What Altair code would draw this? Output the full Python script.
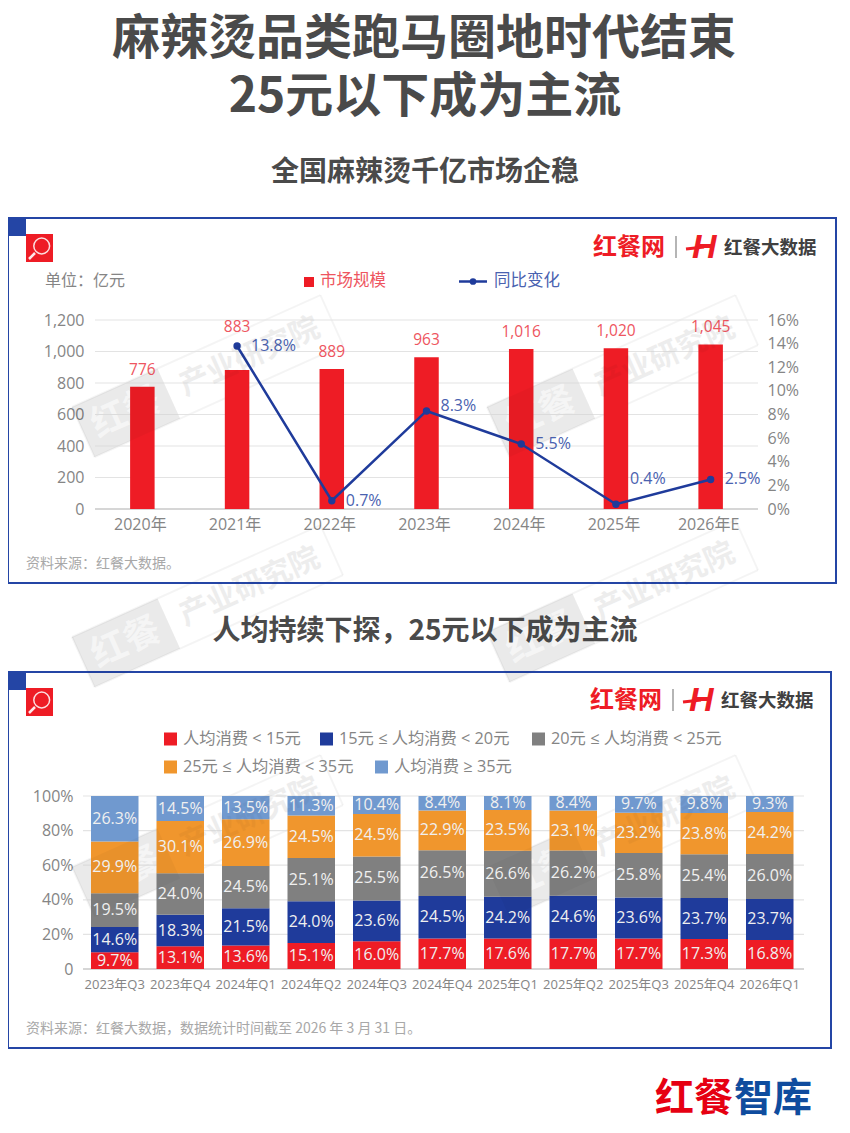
import math
import altair as alt
import pandas as pd

# ---------- data ----------
years = ["2020年", "2021年", "2022年", "2023年", "2024年", "2025年", "2026年E"]
market = [776, 883, 889, 963, 1016, 1020, 1045]
growth_years = ["2021年", "2022年", "2023年", "2024年", "2025年", "2026年E"]
growth = [13.8, 0.7, 8.3, 5.5, 0.4, 2.5]
left_ticks = [0, 200, 400, 600, 800, 1000, 1200]
right_ticks = [0, 2, 4, 6, 8, 10, 12, 14, 16]

quarters = ["2023年Q3", "2023年Q4", "2024年Q1", "2024年Q2", "2024年Q3", "2024年Q4",
            "2025年Q1", "2025年Q2", "2025年Q3", "2025年Q4", "2026年Q1"]
tiers = ["人均消费 < 15元", "15元 ≤ 人均消费 < 20元", "20元 ≤ 人均消费 < 25元",
         "25元 ≤ 人均消费 < 35元", "人均消费 ≥ 35元"]
tier_a = [9.7, 13.1, 13.6, 15.1, 16.0, 17.7, 17.6, 17.7, 17.7, 17.3, 16.8]
tier_b = [14.6, 18.3, 21.5, 24.0, 23.6, 24.5, 24.2, 24.6, 23.6, 23.7, 23.7]
tier_c = [19.5, 24.0, 24.5, 25.1, 25.5, 26.5, 26.6, 26.2, 25.8, 25.4, 26.0]
tier_d = [29.9, 30.1, 26.9, 24.5, 24.5, 22.9, 23.5, 23.1, 23.2, 23.8, 24.2]
tier_e = [26.3, 14.5, 13.5, 11.3, 10.4, 8.4, 8.1, 8.4, 9.7, 9.8, 9.3]
pct_ticks = [0, 20, 40, 60, 80, 100]

# ---------- styles ----------
RED, BLUE, GRAY, ORANGE, LBLUE = "#ee1c25", "#1f3b9b", "#808080", "#f0962d", "#7099cf"
tier_colors = [RED, BLUE, GRAY, ORANGE, LBLUE]
LABEL_RED, LABEL_BLUE, AXIS_GRAY = "#ee5560", "#4a62b0", "#858585"
FRAME = "#2445a5"
CJK = "Noto Sans CJK SC"
NUM = "Open Sans, Noto Sans CJK SC"
W, H = 834, 1117
one = pd.DataFrame({"k": [0]})
WATERMARKS = [(72, 407), (487, 407), (72, 637), (487, 632), (72, 867), (487, 867)]


def X(v):
    return alt.value(v - 8)


def Y(v):
    return alt.value(v - 8)


def label(s, x, y, size, color, weight="normal", align="left", font=NUM, angle=None, opacity=None, style=None):
    kw = dict(fontSize=size, color=color, fontWeight=weight, align=align, baseline="middle", font=font)
    if angle is not None:
        kw["angle"] = angle
    if opacity is not None:
        kw["opacity"] = opacity
    if style:
        kw["fontStyle"] = style
    return alt.Chart(one).mark_text(**kw).encode(x=X(x), y=Y(y), text=alt.value(s))


def box(x1, y1, x2, y2, **kw):
    return alt.Chart(one).mark_rect(**kw).encode(x=X(x1), x2=X(x2), y=Y(y1), y2=Y(y2))


def line(x1, y1, x2, y2, color, width, opacity=1.0):
    return alt.Chart(one).mark_rule(color=color, strokeWidth=width, opacity=opacity).encode(
        x=X(x1), x2=X(x2), y=Y(y1), y2=Y(y2))


# ---------- watermarks ----------
def wm_point(tlx, tly, a, b):
    return tlx + a * 0.91 + b * 0.41, tly - a * 0.41 + b * 0.91


def watermark_under(tlx, tly):
    length, tall, block = 273, 55, 94
    out = []
    corners = [wm_point(tlx, tly, 0, 0), wm_point(tlx, tly, length, 0),
               wm_point(tlx, tly, length, tall), wm_point(tlx, tly, 0, tall)]
    for i in range(4):
        (ax, ay), (bx, by) = corners[i], corners[(i + 1) % 4]
        out.append(line(ax, ay, bx, by, "#000000", 2, 0.045))
    (ax, ay), (bx, by) = wm_point(tlx, tly, 0, tall / 2), wm_point(tlx, tly, block, tall / 2)
    out.append(line(ax, ay, bx, by, "#000000", tall, 0.05))
    mx, my = wm_point(tlx, tly, block / 2, tall / 2)
    out.append(label("红餐", mx, my, 36, "#ffffff", "bold", "center", CJK, angle=336, opacity=0.9))
    mx, my = wm_point(tlx, tly, 183, tall / 2)
    out.append(label("产业研究院", mx, my, 30, "#000000", "bold", "center", CJK, angle=336, opacity=0.03))
    return out


def watermark_over(tlx, tly):
    tall, block = 55, 94
    (ax, ay), (bx, by) = wm_point(tlx, tly, 0, tall / 2), wm_point(tlx, tly, block, tall / 2)
    mx, my = wm_point(tlx, tly, 183, tall / 2)
    return [
        line(ax, ay, bx, by, "#000000", tall, 0.03),
        label("产业研究院", mx, my, 30, "#000000", "bold", "center", CJK, angle=336, opacity=0.03),
    ]


layers = []
for tx, ty in WATERMARKS:
    layers += watermark_under(tx, ty)

# ---------- headings ----------
layers += [
    label("麻辣烫品类跑马圈地时代结束", 424, 40, 48, "#4a4a4a", "bold", "center", CJK),
    label("25元以下成为主流", 425, 98, 48, "#4a4a4a", "bold", "center", CJK),
    label("全国麻辣烫千亿市场企稳", 425, 173, 28, "#4a4a4a", "bold", "center", CJK),
    label("人均持续下探，25元以下成为主流", 425, 632, 28, "#4a4a4a", "bold", "center", CJK),
]


def furniture(left, right, top, bottom, dx, dy):
    """Frame, corner square, magnifier and brand text of one panel."""
    return [
        box(left, top, right, bottom, fillOpacity=0, stroke=FRAME, strokeWidth=2),
        box(left, top, 26, top + 18, color=FRAME),
        box(26, top + 16, 53, top + 44, color=RED),
        alt.Chart(one).mark_point(shape="circle", size=250, stroke="#ffffff", strokeWidth=1.5,
                                  fillOpacity=0, opacity=0.85).encode(x=X(41.7), y=Y(top + 28)),
        line(29, top + 41, 35, top + 35, "#ffffff", 2.5, 0.9),
        label("红餐网", 593 + dx, 248 + dy, 24, RED, "bold", font=CJK),
        line(676 + dx, 236 + dy, 676 + dx, 258 + dy, "#b5b5b5", 2),
        label("H", 692 + dx, 248 + dy, 34, RED, "bold", font="Liberation Sans", style="italic"),
        line(686 + dx, 249 + dy, 704 + dx, 247 + dy, RED, 3),
        label("红餐大数据", 724 + dx, 248 + dy, 18.5, "#404040", "bold", font=CJK),
    ]


# ---------- panel 1 ----------
layers += furniture(8, 836, 218, 583, 0, 0)

x1_scale = alt.Scale(type="band", domain=years, range=[87, 750], paddingInner=0, paddingOuter=0)
y1_scale = alt.Scale(domain=[0, 1200], range=[501, 312])
y1r_scale = alt.Scale(domain=[0, 16], range=[501, 312])
df_market = pd.DataFrame({"year": years, "value": market})
df_growth = pd.DataFrame({"year": growth_years, "value": growth})
df_growth["text"] = [f"{v}%" for v in growth]
df_market["text"] = [f"{v:,}" for v in market]

layers.append(
    alt.Chart(pd.DataFrame({"t": left_ticks})).mark_rule(color="#e3e3e3", strokeWidth=1.2).encode(
        y=alt.Y("t:Q", scale=y1_scale, axis=alt.Axis(
            orient="left", offset=-87, domain=False, ticks=False, grid=False, title=None,
            values=left_ticks, format=",d", labelFont=NUM, labelFontSize=16, labelColor=AXIS_GRAY,
            labelPadding=11, labelOverlap=False)),
        x=X(95), x2=X(758))
)
layers.append(
    alt.Chart(pd.DataFrame({"t": right_ticks})).mark_rule(opacity=0).encode(
        y=alt.Y("t:Q", scale=y1r_scale, axis=alt.Axis(
            orient="right", offset=-84, domain=False, ticks=False, grid=False, title=None,
            values=right_ticks, labelExpr="datum.value + '%'", labelFont=NUM, labelFontSize=16,
            labelColor=AXIS_GRAY, labelPadding=9, labelOverlap=False)),
        x=X(95), x2=X(758))
)
layers.append(line(95, 509, 758, 509, "#cccccc", 1.5))
layers.append(
    alt.Chart(df_market).mark_bar(size=24.5, color=RED).encode(
        x=alt.X("year:N", scale=x1_scale, sort=None, title=None, axis=alt.Axis(
            orient="bottom", offset=-616, domain=False, ticks=False, grid=False,
            labelFont=NUM, labelFontSize=16, labelColor=AXIS_GRAY, labelAngle=0,
            labelPadding=7, labelOffset=-2, labelOverlap=False)),
        y=alt.Y("value:Q", scale=y1_scale, axis=None))
)


def market_text(rows, lift):
    return alt.Chart(df_market[df_market.year.isin(rows)]).mark_text(
        fontSize=15.5, color=LABEL_RED, font=NUM, baseline="middle", dy=-lift).encode(
        x=alt.X("year:N", scale=x1_scale, sort=None, axis=None, bandPosition=0.5),
        y=alt.Y("value:Q", scale=y1_scale, axis=None),
        text="text:N")


layers.append(market_text(["2020年", "2022年", "2023年", "2024年", "2025年", "2026年E"], 17))
layers.append(market_text(["2021年"], 43))

layers.append(
    alt.Chart(df_growth).mark_line(color=BLUE, strokeWidth=2.5).encode(
        x=alt.X("year:N", scale=x1_scale, sort=None, axis=None, bandPosition=0.5),
        y=alt.Y("value:Q", scale=y1r_scale, axis=None))
)
layers.append(
    alt.Chart(df_growth).mark_point(filled=True, size=55, color=BLUE, opacity=1).encode(
        x=alt.X("year:N", scale=x1_scale, sort=None, axis=None, bandPosition=0.5),
        y=alt.Y("value:Q", scale=y1r_scale, axis=None))
)


def growth_text(rows, dy):
    return alt.Chart(df_growth[df_growth.year.isin(rows)]).mark_text(
        fontSize=16, color=LABEL_BLUE, font=NUM, baseline="middle", align="left", dx=14, dy=dy).encode(
        x=alt.X("year:N", scale=x1_scale, sort=None, axis=None, bandPosition=0.5),
        y=alt.Y("value:Q", scale=y1r_scale, axis=None),
        text="text:N")


layers.append(growth_text(["2021年", "2022年", "2024年", "2026年E"], 0))
layers.append(growth_text(["2023年"], -5))
layers.append(growth_text(["2025年"], -25))

layers += [
    label("单位：亿元", 45, 281, 16, AXIS_GRAY, font=CJK),
    box(304, 277, 314, 287, color=RED),
    label("市场规模", 320, 281, 16.5, LABEL_RED, font=CJK),
    line(459, 281.5, 487, 281.5, BLUE, 2.5),
    alt.Chart(one).mark_point(filled=True, size=45, color=BLUE, opacity=1).encode(x=X(473), y=Y(281.5)),
    label("同比变化", 494, 281, 16.5, LABEL_BLUE, font=CJK),
    label("资料来源：红餐大数据。", 26, 564, 14, "#a8a8a8", font=CJK),
]

# ---------- panel 2 ----------
layers += furniture(8, 831, 672, 1048, -3, 453)

x2_scale = alt.Scale(type="band", domain=quarters, range=[74, 794.5], paddingInner=0, paddingOuter=0)
y2_scale = alt.Scale(domain=[0, 100], range=[961, 788])
rows = []
for q_i, q in enumerate(quarters):
    base = 0.0
    for tier, series in zip(tiers, [tier_a, tier_b, tier_c, tier_d, tier_e]):
        v = series[q_i]
        rows.append({"q": q, "tier": tier, "start": base, "end": base + v,
                     "mid": base + v / 2, "text": f"{v:.1f}%"})
        base += v
df_stack = pd.DataFrame(rows)

layers.append(
    alt.Chart(pd.DataFrame({"t": pct_ticks})).mark_rule(color="#e3e3e3", strokeWidth=1.2).encode(
        y=alt.Y("t:Q", scale=y2_scale, axis=alt.Axis(
            orient="left", offset=-75, domain=False, ticks=False, grid=False, title=None,
            values=pct_ticks, labelExpr="datum.value == 0 ? '0' : datum.value + '%'",
            labelFont=NUM, labelFontSize=16, labelColor=AXIS_GRAY, labelPadding=10,
            labelOverlap=False)),
        x=X(83), x2=X(804))
)
layers.append(line(83, 969, 804, 969, "#cccccc", 1.5))
layers.append(
    alt.Chart(df_stack).mark_bar(size=47.5).encode(
        x=alt.X("q:N", scale=x2_scale, sort=None, title=None, axis=alt.Axis(
            orient="bottom", offset=-156, domain=False, ticks=False, grid=False,
            labelFont=NUM, labelFontSize=13, labelColor=AXIS_GRAY, labelAngle=0,
            labelPadding=9, labelOverlap=False)),
        y=alt.Y("start:Q", scale=y2_scale, axis=None),
        y2="end:Q",
        color=alt.Color("tier:N", scale=alt.Scale(domain=tiers, range=tier_colors), legend=None))
)

for tx, ty in WATERMARKS:
    layers += watermark_over(tx, ty)

layers.append(
    alt.Chart(df_stack).mark_text(fontSize=16, color="#f0f0f0", font=NUM, baseline="middle").encode(
        x=alt.X("q:N", scale=x2_scale, sort=None, axis=None, bandPosition=0.5),
        y=alt.Y("mid:Q", scale=y2_scale, axis=None),
        text="text:N")
)

legend_slots = [(164, 739), (320, 739), (532, 739), (164, 767), (375, 767)]
for (lx, ly), tier, col in zip(legend_slots, tiers, tier_colors):
    layers.append(box(lx, ly - 6.5, lx + 13, ly + 6.5, color=col))
    layers.append(label(tier, lx + 19, ly, 16.3, AXIS_GRAY))
layers.append(label("资料来源：红餐大数据，数据统计时间截至 2026 年 3 月 31 日。", 26, 1029, 14, "#a8a8a8", font=CJK))

# ---------- bottom logo ----------
layers += [
    label("红餐", 655, 1099, 39, "#e60012", "bold", font=CJK),
    label("智库", 734, 1099, 39, "#0f4c9e", "bold", font=CJK),
]

chart = (
    alt.layer(*layers)
    .resolve_scale(x="independent", y="independent", color="independent")
    .properties(width=W, height=H, padding=0, background="#ffffff",
                autosize=alt.AutoSizeParams(type="none"))
    .configure_view(stroke=None)
)
chart.save("out.html", embed_options={"renderer": "svg", "actions": False})
